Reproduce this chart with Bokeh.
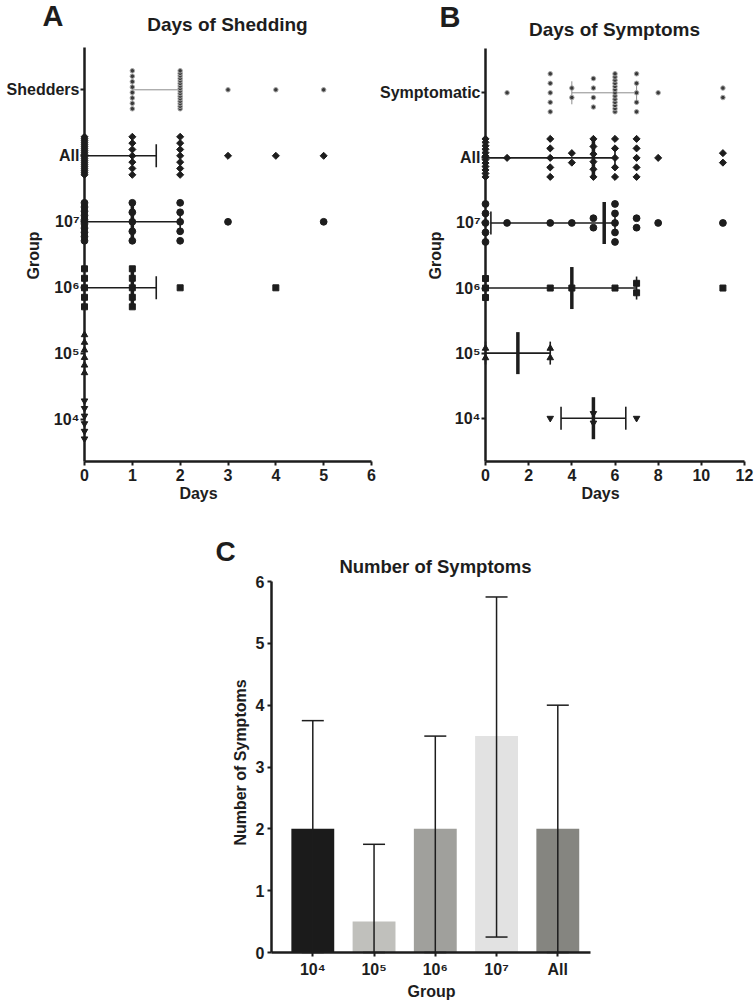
import numpy as np
from collections import Counter
from bokeh.plotting import figure
from bokeh.models import Range1d, FixedTicker, Label
from bokeh.layouts import row, column
from bokeh.embed import file_html
from bokeh.resources import INLINE

FONT = "Liberation Sans"
INK = "#1d1d1d"
GREY = "#8c8c8c"

# ---------------- Panel A: days of shedding ----------------
groups_A = ["10⁴", "10⁵", "10⁶", "10⁷", "All", "Shedders"]
shed_1e4 = [0, 0, 0, 0, 0, 0]
shed_1e5 = [0, 0, 0, 0, 0, 0]
shed_1e6 = [0, 0, 0, 0, 0, 1, 1, 1, 1, 1, 2, 4]
shed_1e7 = [0] * 10 + [1] * 5 + [2] * 5 + [3, 5]
shed_all = [0] * 20 + [1] * 7 + [2] * 7 + [3, 4, 5]
shed_shedders = [1] * 8 + [2] * 16 + [3, 4, 5]
shed_q1 = [0, 0, 0, 0, 0, 1]
shed_median = [0, 0, 1, 1, 0, 2]
shed_q3 = [0, 0, 1.5, 2, 1.5, 2]
days_ticks_A = [0, 1, 2, 3, 4, 5, 6]

# ---------------- Panel B: days of symptoms ----------------
groups_B = ["10⁴", "10⁵", "10⁶", "10⁷", "All", "Symptomatic"]
sym_1e4 = [3, 5, 5, 7]
sym_1e5 = [0, 0, 3, 3]
sym_1e6 = [0, 0, 0, 3, 4, 6, 7, 7, 11]
sym_1e7 = [0] * 5 + [1, 3, 4, 5, 5] + [6] * 5 + [7, 7, 8, 11]
sym_all = [0] * 12 + [1] + [3] * 5 + [4] * 2 + [5] * 6 + [6] * 5 + [7] * 5 + [8] + [11] * 2
sym_symptomatic = [1] + [3] * 5 + [4] * 2 + [5] * 4 + [6] * 13 + [7] * 5 + [8] + [11] * 2
sym_q1 = [3.5, 0, 0, 0.25, 0, 4]
sym_median = [5, 1.5, 4, 5.5, 5, 6]
sym_q3 = [6.5, 3, 7, 6, 6, 7]
days_ticks_B = [0, 2, 4, 6, 8, 10, 12]

# ---------------- Panel C: number of symptoms ----------------
groups_C = ["10⁴", "10⁵", "10⁶", "10⁷", "All"]
symptoms_median = [2, 0.5, 2, 3.5, 2]
symptoms_low = [0, 0, 0, 0.25, 0]
symptoms_high = [3.75, 1.75, 3.5, 5.75, 4.0]
bar_colors = ["#1b1b1b", "#c0c0bc", "#a0a09c", "#e2e2e2", "#858580"]
count_ticks_C = [0, 1, 2, 3, 4, 5, 6]

# ---------------- styles ----------------
STYLES = [
    dict(marker="inverted_triangle", size=6.5, fill_color=INK, line_color=INK, angle=0.0),
    dict(marker="triangle", size=6.5, fill_color=INK, line_color=INK, angle=0.0),
    dict(marker="square", size=6, fill_color=INK, line_color=INK, angle=0.0),
    dict(marker="circle", size=6.8, fill_color=INK, line_color=INK, angle=0.0),
    dict(marker="square", size=5, fill_color=INK, line_color=INK, angle=np.pi / 4),
    dict(marker="circle", size=4.5, fill_color="#3a3a3a", line_color="#a8a8a8", angle=0.0),
]


def stack(values, k, ppu, s0=9.5, span=38.0):
    xs, ys = [], []
    cnt = Counter(values)
    for v in sorted(cnt):
        n = cnt[v]
        sp = s0 if n < 2 else min(s0, span / (n - 1))
        for i in range(n):
            xs.append(v)
            ys.append(k + (i - (n - 1) / 2) * sp / ppu)
    return xs, ys


def style_axis(ax, size):
    ax.axis_line_width = 2.5
    ax.axis_line_color = INK
    ax.major_tick_line_width = 2
    ax.major_tick_line_color = INK
    ax.major_tick_out = 4
    ax.major_tick_in = 0
    ax.minor_tick_line_color = None
    ax.major_label_text_font = FONT
    ax.major_label_text_font_size = f"{size}px"
    ax.major_label_text_font_style = "bold"
    ax.major_label_text_color = INK
    ax.major_label_standoff = 3


def lab(p, x, y, text, size, align="center", angle=0.0):
    p.add_layout(Label(x=x, y=y, text=text, text_font=FONT, text_font_size=f"{size}px",
                       text_font_style="bold", text_color=INK, text_align=align,
                       text_baseline="middle", angle=angle))


def bare_figure(L, T, W, H, fx, fy):
    p = figure(width=W, height=H, output_backend="svg", toolbar_location=None,
               x_range=Range1d(fx(L), fx(L + W)), y_range=Range1d(fy(T + H), fy(T)),
               min_border=0)
    p.grid.visible = False
    p.outline_line_color = None
    return p


def dot_panel(L, W, x0px, xscale, y1px, yscale, frame_t, frame_b, ticks, groups, series,
              q1, med, q3, letter, letter_px, title, title_px, group_lbl_px, days_px):
    dx = lambda px: (px - x0px) / xscale
    dy = lambda py: 1 + (y1px - py) / yscale
    p = bare_figure(L, 0, W, 505, dx, dy)
    p.xaxis.ticker = FixedTicker(ticks=ticks)
    p.xaxis.bounds = (0, ticks[-1])
    p.xaxis.fixed_location = dy(frame_b)
    style_axis(p.xaxis[0], 16)
    p.xaxis.major_label_standoff = 3
    p.yaxis.ticker = FixedTicker(ticks=list(range(1, 7)))
    p.yaxis.major_label_overrides = {k + 1: g for k, g in enumerate(groups)}
    p.yaxis.fixed_location = 0
    p.yaxis.bounds = (dy(frame_b), dy(frame_t))
    style_axis(p.yaxis[0], 16)
    p.yaxis.major_label_standoff = 1

    cap = 11.5 / yscale
    mh = 21 / yscale
    for k in range(6):
        y = k + 1
        grey = (k == 5)
        col = GREY if grey else INK
        if q3[k] > q1[k]:
            p.segment(x0=[q1[k]], y0=[y], x1=[q3[k]], y1=[y], line_color=col,
                      line_width=1 if grey else 1.6)
            p.segment(x0=[q1[k], q3[k]], y0=[y - cap] * 2, x1=[q1[k], q3[k]], y1=[y + cap] * 2,
                      line_color=col, line_width=1 if grey else 1.6)
            p.segment(x0=[med[k]], y0=[y - mh], x1=[med[k]], y1=[y + mh], line_color=col,
                      line_width=2 if grey else 3.5)
        xs, ys = stack(series[k], y, yscale)
        st = STYLES[k]
        p.scatter(x=xs, y=ys, marker=st["marker"], size=st["size"], fill_color=st["fill_color"],
                  line_color=st["line_color"], angle=st["angle"], line_width=1)

    lab(p, dx(letter_px[0]), dy(letter_px[1]), letter, 29, align="left")
    lab(p, dx(title_px[0]), dy(title_px[1]), title, 19)
    lab(p, dx(group_lbl_px[0]), dy(group_lbl_px[1]), "Group", 16, angle=np.pi / 2)
    lab(p, dx(days_px[0]), dy(days_px[1]), "Days", 16)
    return p


pA = dot_panel(0, 378, 84, 287 / 6, 419.3, 66.0, 47, 461, days_ticks_A, groups_A,
               [shed_1e4, shed_1e5, shed_1e6, shed_1e7, shed_all, shed_shedders],
               shed_q1, shed_median, shed_q3, "A", (42, 15), "Days of Shedding", (227, 23.5),
               (33, 255), (198, 493))

pB = dot_panel(378, 377, 485, 259 / 12, 417.7, 65.08, 48, 461, days_ticks_B, groups_B,
               [sym_1e4, sym_1e5, sym_1e6, sym_1e7, sym_all, sym_symptomatic],
               sym_q1, sym_median, sym_q3, "B", (439, 16.5), "Days of Symptoms", (614, 29),
               (435, 255), (600, 493))

# ---------------- Panel C figure ----------------
cx = lambda px: 1 + (px - 312.3) / 61.25
cy = lambda py: (952 - py) / 61.83
pC = bare_figure(0, 505, 755, 495, cx, cy)
xs_c = list(range(1, len(groups_C) + 1))
pC.vbar(x=xs_c, top=symptoms_median, bottom=0, width=0.70, fill_color=bar_colors, line_color=None)
pC.segment(x0=xs_c, y0=symptoms_low, x1=xs_c, y1=symptoms_high, line_color=INK, line_width=1.5)
hw = 11 / 61.25
pC.segment(x0=[x - hw for x in xs_c], y0=symptoms_high, x1=[x + hw for x in xs_c], y1=symptoms_high,
           line_color=INK, line_width=1.5)
pC.segment(x0=[x - hw for x in xs_c], y0=symptoms_low, x1=[x + hw for x in xs_c], y1=symptoms_low,
           line_color=INK, line_width=1.5)
pC.xaxis.ticker = FixedTicker(ticks=xs_c)
pC.xaxis.major_label_overrides = {x: g for x, g in zip(xs_c, groups_C)}
pC.xaxis.fixed_location = 0
pC.xaxis.bounds = (cx(271), cx(590))
style_axis(pC.xaxis[0], 16)
pC.xaxis.major_label_standoff = 4
pC.yaxis.ticker = FixedTicker(ticks=count_ticks_C)
pC.yaxis.fixed_location = cx(271)
pC.yaxis.bounds = (0, 6)
style_axis(pC.yaxis[0], 16)
lab(pC, cx(215), cy(550.5), "C", 28, align="left")
lab(pC, cx(435), cy(565.5), "Number of Symptoms", 18.5)
lab(pC, cx(240), cy(762), "Number of Symptoms", 16, angle=np.pi / 2)
lab(pC, cx(431), cy(991), "Group", 16)

layout = column(row(pA, pB), pC)
open("out.html", "w").write(file_html(layout, INLINE))
